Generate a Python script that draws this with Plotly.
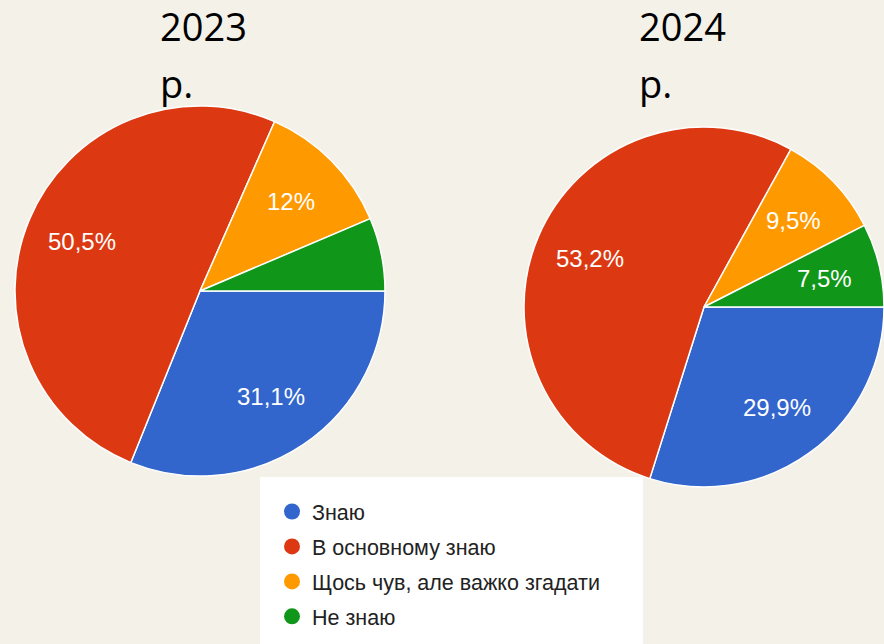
import math
import plotly.graph_objects as go

categories = ["Знаю", "В основному знаю", "Щось чув, але важко згадати", "Не знаю"]
values_2023 = [31.1, 50.5, 12.0, 6.4]
values_2024 = [29.9, 53.2, 9.5, 7.5]
years = ["2023", "2024"]
year_suffix = "р."
colors = ["#3366cc", "#dc3912", "#ff9900", "#109618"]

W, H = 884, 644
BG = "#f4f1e9"
LABEL_R = 0.69


def fmt(v):
    if v < 7:
        return ""
    s = ("%.1f" % v).rstrip("0").rstrip(".")
    return s.replace(".", ",") + "%"


# pie boxes in pixels: (left, right, top, bottom)
boxes = [(15, 385, 106, 476), (524, 884, 127, 487)]

fig = go.Figure()
annotations = []

for vals, (x0, x1, yt, yb) in zip([values_2023, values_2024], boxes):
    dom = dict(x=[x0 / W, x1 / W], y=[(H - yb) / H, (H - yt) / H])
    fig.add_trace(go.Pie(
        labels=categories,
        values=vals,
        textinfo="none",
        marker=dict(colors=colors, line=dict(color="white", width=1.5)),
        sort=False,
        direction="clockwise",
        rotation=90,
        domain=dom,
        showlegend=False,
        hoverinfo="label+percent",
    ))
    # percentage labels placed along each slice's bisector
    cx, cy = (x0 + x1) / 2, (yt + yb) / 2
    r = min(x1 - x0, yb - yt) / 2
    total = sum(vals)
    acc = 0.0
    for v in vals:
        mid = (acc + v / 2) / total * 2 * math.pi
        acc += v
        t = fmt(v)
        if not t:
            continue
        px = cx + LABEL_R * r * math.cos(mid)
        py = cy + LABEL_R * r * math.sin(mid)
        annotations.append(dict(
            text=t, x=px / W, y=(H - py) / H, xref="paper", yref="paper",
            xanchor="center", yanchor="middle", showarrow=False,
            font=dict(family="Liberation Sans, Arial", size=24, color="white"),
        ))

for i, (c, col) in enumerate(zip(categories, colors)):
    fig.add_trace(go.Scatter(
        x=[None], y=[None], mode="markers", name=c,
        marker=dict(color=col, size=18, symbol="circle"),
        legendgroup="g%d" % i, showlegend=True,
    ))

for yr, x in zip(years, [158, 637]):
    annotations.append(dict(
        text=yr, x=x / W, y=1 + 2 / H, xref="paper", yref="paper",
        xanchor="left", yanchor="top", align="left", showarrow=False,
        font=dict(family="Open Sans", size=38, color="black"),
    ))
    annotations.append(dict(
        text=year_suffix, x=x / W, y=1 - 55 / H, xref="paper", yref="paper",
        xanchor="left", yanchor="top", align="left", showarrow=False,
        font=dict(family="Open Sans", size=38, color="black"),
    ))

fig.update_layout(
    width=W, height=H,
    margin=dict(l=0, r=0, t=0, b=0),
    paper_bgcolor=BG, plot_bgcolor=BG,
    xaxis=dict(visible=False), yaxis=dict(visible=False),
    annotations=annotations,
    shapes=[dict(type="rect", xref="paper", yref="paper",
                 x0=260 / W, x1=643 / W, y0=0, y1=(H - 477) / H,
                 fillcolor="white", line=dict(width=0), layer="above")],
    legend=dict(
        x=272 / W, y=(H - 491) / H, xanchor="left", yanchor="top",
        bgcolor="rgba(0,0,0,0)", borderwidth=0,
        font=dict(family="Liberation Sans, Arial", size=21.5, color="#222222"),
        tracegroupgap=4, traceorder="grouped",
    ),
)

fig.write_html("out.html",
               config={"displayModeBar": False},
               post_script="document.body.style.margin='0';document.body.style.overflow='hidden';")
